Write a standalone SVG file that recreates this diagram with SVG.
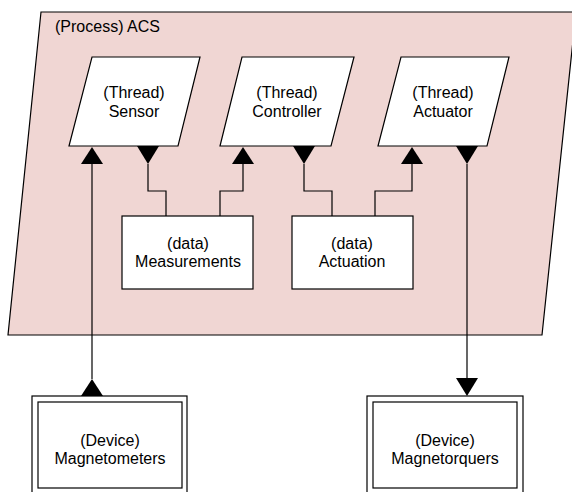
<svg xmlns="http://www.w3.org/2000/svg" width="572" height="492" viewBox="0 0 572 492">
<style>
text{font-family:"Liberation Sans",Arial,sans-serif;font-size:16px;fill:#000}
.c{text-anchor:middle}
.box{fill:#fff;stroke:#000;stroke-width:1.2}
.ln{fill:none;stroke:#000;stroke-width:1.2}
.ah{fill:#000;stroke:none}
</style>
<rect width="572" height="492" fill="#fff"/>
<g id="process-acs">
<polygon points="41,12 576,12 542,335 8,335" fill="#f0d6d3" stroke="#000" stroke-width="1.2"/>
<text x="55" y="32">(Process) ACS</text>
</g>
<g id="thread-sensor">
<polygon class="box" points="92,57 200,57 178,146 69,146"/>
<text class="c" x="134" y="98">(Thread)</text>
<text class="c" x="134" y="117">Sensor</text>
</g>
<g id="thread-controller">
<polygon class="box" points="242,57 354,57 331,146 220,146"/>
<text class="c" x="287" y="98">(Thread)</text>
<text class="c" x="287" y="117">Controller</text>
</g>
<g id="thread-actuator">
<polygon class="box" points="401,57 509,57 487,146 378,146"/>
<text class="c" x="443" y="98">(Thread)</text>
<text class="c" x="443" y="117">Actuator</text>
</g>
<g id="data-measurements">
<rect class="box" x="122" y="216" width="131" height="73"/>
<text class="c" x="188" y="249">(data)</text>
<text class="c" x="188" y="267">Measurements</text>
</g>
<g id="data-actuation">
<rect class="box" x="292" y="216" width="121" height="73"/>
<text class="c" x="352" y="249">(data)</text>
<text class="c" x="352" y="267">Actuation</text>
</g>
<g id="device-magnetometers">
<rect class="box" x="32" y="396" width="155" height="100"/>
<rect class="box" x="38" y="402" width="144" height="86"/>
<text class="c" x="110" y="446">(Device)</text>
<text class="c" x="110" y="464">Magnetometers</text>
</g>
<g id="device-magnetorquers">
<rect class="box" x="367" y="396" width="156" height="100"/>
<rect class="box" x="373" y="402" width="144" height="86"/>
<text class="c" x="445" y="446">(Device)</text>
<text class="c" x="445" y="464">Magnetorquers</text>
</g>
<g id="connectors">
<polyline class="ln" points="92,164 92,379"/>
<polygon class="ah" points="92,147 81,164 103,164"/>
<polygon class="ah" points="92,379 81,396 103,396"/>
<polyline class="ln" points="148,164 148,191 166,191 166,216"/>
<polygon class="ah" points="137,146 159,146 148,164"/>
<polyline class="ln" points="220,216 220,191 243,191 243,164"/>
<polygon class="ah" points="243,147 232,164 254,164"/>
<polyline class="ln" points="304,164 304,191 332,191 332,216"/>
<polygon class="ah" points="293,146 315,146 304,164"/>
<polyline class="ln" points="375,216 375,191 412,191 412,164"/>
<polygon class="ah" points="412,147 401,164 423,164"/>
<polyline class="ln" points="467,164 467,378"/>
<polygon class="ah" points="456,146 478,146 467,164"/>
<polygon class="ah" points="456,378 478,378 467,396"/>
</g>
</svg>
